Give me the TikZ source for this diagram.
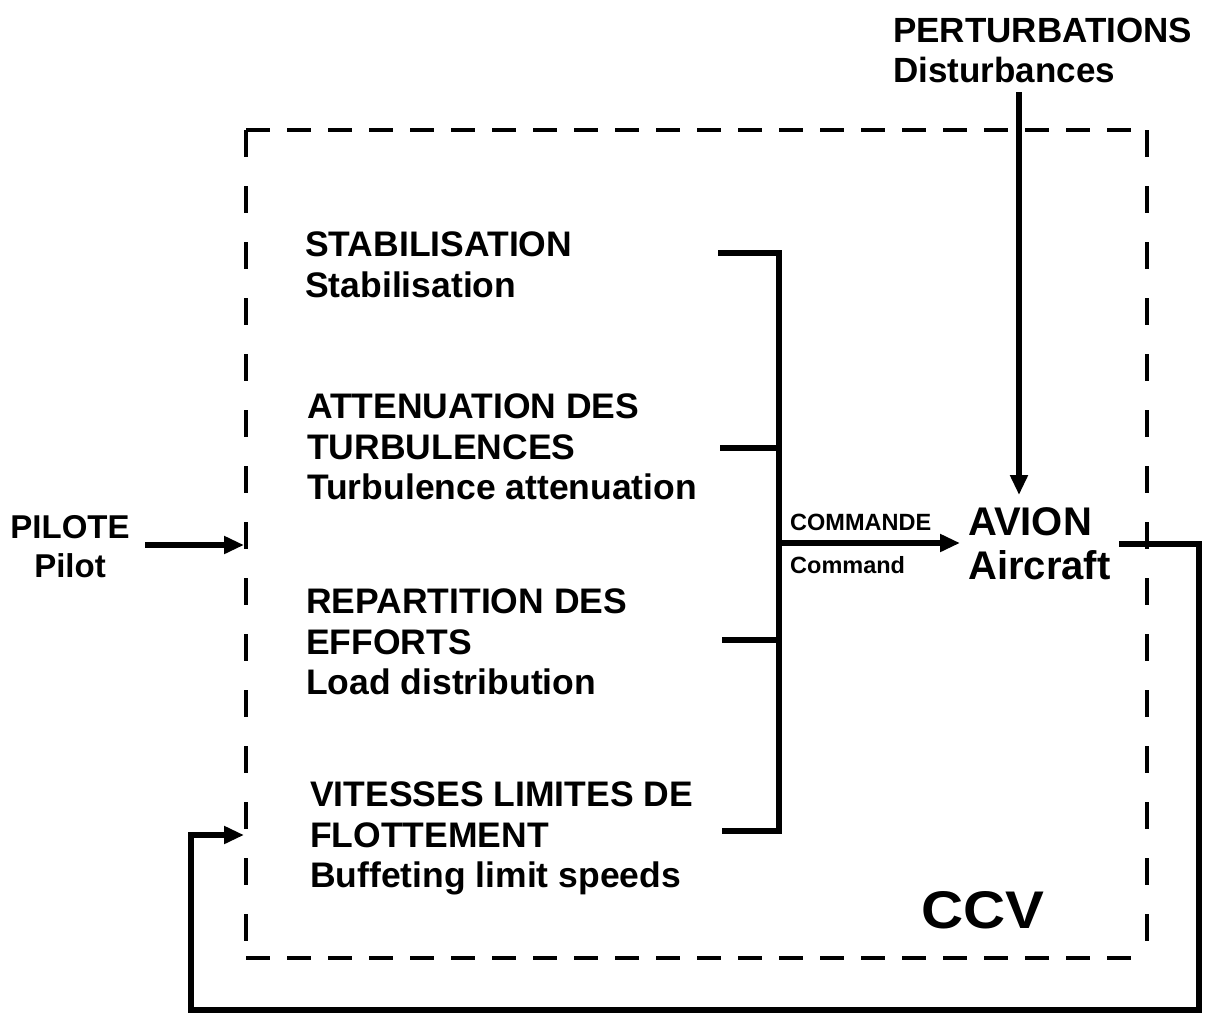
\documentclass[tikz,border=0pt]{standalone}
\usepackage{fontspec}
\setmainfont{Liberation Sans}
\usetikzlibrary{arrows.meta}
\begin{document}
\begin{tikzpicture}[x=1pt,y=-1pt,
  lbl/.style={font=\bfseries\fontsize{35.5}{40.5}\selectfont, align=left, inner sep=0pt, anchor=north west},
  small/.style={font=\bfseries\fontsize{23.5}{26}\selectfont, inner sep=0pt, anchor=base west},
  big/.style={font=\bfseries\fontsize{40}{44}\selectfont, align=left, inner sep=0pt, anchor=north west},
  arr/.style={line width=5.5pt, -{Triangle[length=20pt,width=17pt]}},
  hdash/.style={line width=4.5pt, dash pattern=on 24pt off 17pt},
  vdash/.style={line width=4.5pt, dash pattern=on 27pt off 29pt}]
\useasboundingbox (0,0) rectangle (1211,1018);

% dashed CCV boundary
\coordinate (tl) at (246,130);
\coordinate (tr) at (1147,130);
\coordinate (bl) at (246,958);
\coordinate (br) at (1147,958);
\draw[hdash] (tl) -- (tr);
\draw[hdash] (bl) -- (br);
\draw[vdash] (tl) -- (bl);
\draw[vdash] (tr) -- (br);

% function labels
\node[lbl] (stab) at (305,232) {STABILISATION\\Stabilisation};
\node[lbl] (att) at (307,394) {ATTENUATION DES\\TURBULENCES\\Turbulence attenuation};
\node[lbl] (rep) at (306,589) {REPARTITION DES\\EFFORTS\\Load distribution};
\node[lbl] (vit) at (310,782) {VITESSES LIMITES DE\\FLOTTEMENT\\Buffeting limit speeds};

% bracket
\coordinate (b1) at (718,253);
\coordinate (b2) at (720,448);
\coordinate (b3) at (722,640);
\coordinate (b4) at (722,831);
\coordinate (j1) at (779,253);
\coordinate (j2) at (779,448);
\coordinate (j3) at (779,640);
\coordinate (j4) at (779,831);
\coordinate (jc) at (779,543);
\draw[line width=5.5pt] (b1) -- (j1) -- (j4) -- (b4);
\draw[line width=5.5pt] (b2) -- (j2);
\draw[line width=5.5pt] (b3) -- (j3);

% command
\coordinate (cmdtip) at (960,543);
\draw[arr] (jc) -- (cmdtip);
\node[small] (commande) at (790,530) {COMMANDE};
\node[small] (command) at (790,573) {Command};

% aircraft
\node[big] (avion) at (968,507) {AVION\\Aircraft};

% disturbances
\node[lbl, font=\bfseries\fontsize{35}{40}\selectfont] (pert) at (893,18) {PERTURBATIONS\\Disturbances};
\coordinate (disttop) at (1019,92);
\coordinate (disttip) at (1019,495);
\draw[arr] (disttop) -- (disttip);

% pilot
\node[font=\bfseries\fontsize{33}{39}\selectfont, align=center, inner sep=0pt] (pilote) at (70,547) {PILOTE\\Pilot};
\coordinate (pilstart) at (145,545);
\coordinate (piltip) at (244,545);
\draw[arr] (pilstart) -- (piltip);

% feedback loop
\coordinate (fb0) at (1119,544);
\coordinate (fb1) at (1199,544);
\coordinate (fb2) at (1199,1010);
\coordinate (fb3) at (191,1010);
\coordinate (fb4) at (191,835);
\coordinate (fbtip) at (244,835);
\draw[arr] (fb0) -- (fb1) -- (fb2) -- (fb3) -- (fb4) -- (fbtip);

% CCV label
\node[font=\bfseries\fontsize{53}{60}\selectfont, inner sep=0pt, anchor=north west, xscale=1.1] (ccv) at (921,891) {CCV};
\end{tikzpicture}
\end{document}
